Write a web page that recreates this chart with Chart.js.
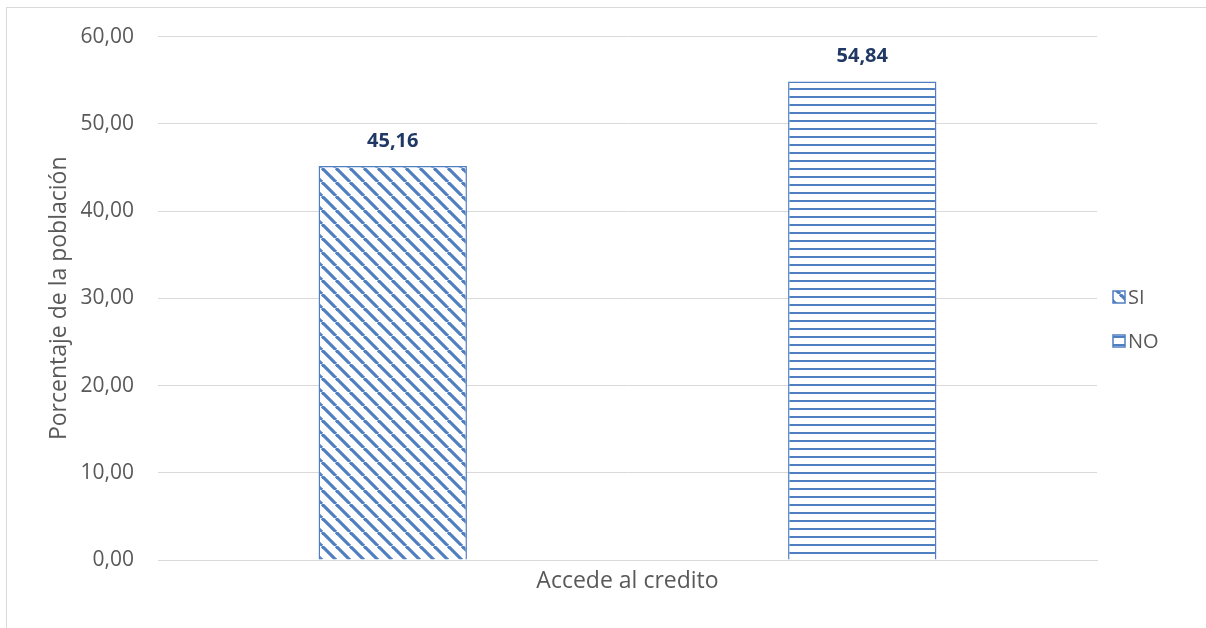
<!DOCTYPE html>
<html lang="es">
<head>
<meta charset="utf-8">
<title>Acceso al crédito</title>
<script src="https://cdn.jsdelivr.net/npm/chart.js@4.4.1/dist/chart.umd.min.js"></script>
<style>
  html, body { margin: 0; padding: 0; background: #fff; overflow: hidden; }
  #frame {
    position: absolute; left: 6px; top: 7px;
    width: 1220px; height: 640px;
    border: 1px solid #d9d9d9;
  }
  #wrap { position: absolute; left: 0; top: 0; width: 1206px; height: 628px; }
</style>
</head>
<body>
<div id="frame"></div>
<div id="wrap"><canvas id="chart" width="1206" height="628"></canvas></div>
<script>
// ---------- Data ----------
const categories = ["Accede al credito"];
const seriesNames = ["SI", "NO"];
const siValues = [45.16];
const noValues = [54.84];
const yTicks = [0, 10, 20, 30, 40, 50, 60];

const BLUE = "#4f7fc0";
const GRID = "#d9d9d9";
const TEXT = "#595959";
const FONT = "'Open Sans', sans-serif";

// comma decimal, two places
const fmt = (v) => Number(v).toFixed(2).replace(".", ",");

// ---------- Hatch fills ----------
function diagonalHatch() {
  const size = 14;
  const c = document.createElement("canvas");
  c.width = size; c.height = size;
  const g = c.getContext("2d");
  g.fillStyle = "#fff";
  g.fillRect(0, 0, size, size);
  g.strokeStyle = BLUE;
  g.lineWidth = 3.2;
  for (const o of [-size, 0, size]) {
    g.beginPath();
    g.moveTo(o, 0);
    g.lineTo(o + size, size);
    g.stroke();
  }
  return g.createPattern(c, "repeat");
}

function horizontalHatch() {
  const size = 8;
  const c = document.createElement("canvas");
  c.width = size; c.height = size;
  const g = c.getContext("2d");
  g.fillStyle = "#fff";
  g.fillRect(0, 0, size, size);
  g.fillStyle = BLUE;
  g.fillRect(0, 0, size, 2);
  return g.createPattern(c, "repeat");
}

// ---------- Value labels above bars ----------
const barLabels = {
  id: "barLabels",
  afterDatasetsDraw(chart) {
    const ctx = chart.ctx;
    ctx.save();
    ctx.font = "bold 20px " + FONT;
    ctx.fillStyle = "#1f3864";
    ctx.textAlign = "center";
    ctx.textBaseline = "middle";
    chart.data.datasets.forEach((ds, i) => {
      chart.getDatasetMeta(i).data.forEach((bar, j) => {
        ctx.fillText(fmt(ds.data[j]), bar.x, bar.y - 25);
      });
    });
    ctx.restore();
  }
};

// ---------- Legend at the right, hatched swatches ----------
const sideLegend = {
  id: "sideLegend",
  afterDraw(chart) {
    const ctx = chart.ctx;
    const x = chart.chartArea.right + 16;
    const y0 = 297, step = 44, box = 12;
    ctx.save();
    ctx.font = "20px " + FONT;
    ctx.textBaseline = "middle";
    ctx.textAlign = "left";
    chart.data.datasets.forEach((ds, i) => {
      const y = y0 + i * step;
      ctx.fillStyle = ds.backgroundColor;
      ctx.fillRect(x, y - box / 2, box, box);
      ctx.strokeStyle = BLUE;
      ctx.lineWidth = 1.5;
      ctx.strokeRect(x, y - box / 2, box, box);
      ctx.fillStyle = TEXT;
      ctx.fillText(ds.label, x + box + 3, y + 1);
    });
    ctx.restore();
  }
};

// ---------- Chart ----------
const chart = new Chart(document.getElementById("chart"), {
  type: "bar",
  data: {
    labels: categories,
    datasets: [
      {
        label: seriesNames[0],
        data: siValues,
        backgroundColor: diagonalHatch(),
        borderColor: BLUE,
        borderWidth: 1.5
      },
      {
        label: seriesNames[1],
        data: noValues,
        backgroundColor: horizontalHatch(),
        borderColor: BLUE,
        borderWidth: 1.5
      }
    ]
  },
  plugins: [barLabels, sideLegend],
  options: {
    responsive: false,
    animation: false,
    layout: { padding: { left: 46, top: 25, right: 109, bottom: 0 } },
    datasets: {
      bar: { categoryPercentage: 1.0, barPercentage: 0.316 }
    },
    plugins: {
      legend: { display: false },
      tooltip: { enabled: false }
    },
    scales: {
      x: {
        afterFit(scale) { scale.height = 68; },
        grid: { display: false },
        border: { color: GRID, width: 1 },
        ticks: {
          color: TEXT,
          padding: 0,
          font: { family: FONT, size: 23 }
        }
      },
      y: {
        min: 0,
        max: 60,
        afterBuildTicks(scale) {
          scale.ticks = yTicks.map((v) => ({ value: v }));
        },
        afterFit(scale) { scale.width = 112; },
        grid: { color: GRID, lineWidth: 1, drawTicks: false },
        border: { display: false },
        ticks: {
          color: TEXT,
          padding: 24,
          font: { family: FONT, size: 21 },
          callback: (v) => fmt(v)
        },
        title: {
          display: true,
          text: "Porcentaje de la población",
          color: TEXT,
          padding: 0,
          font: { family: FONT, size: 23 }
        }
      }
    }
  }
});
</script>
</body>
</html>
